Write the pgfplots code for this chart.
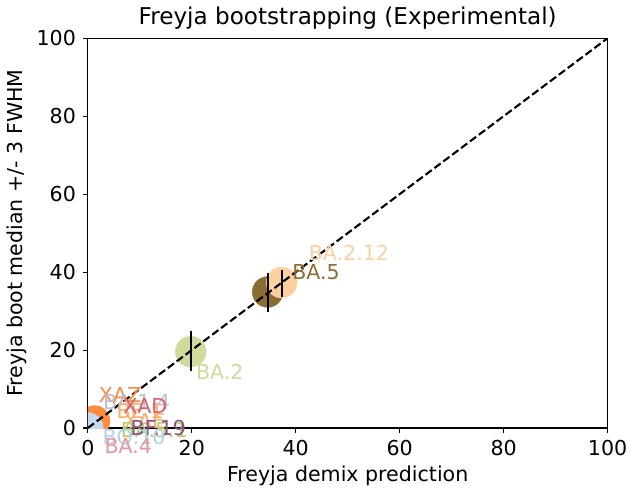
\documentclass[border=0pt]{standalone}
\usepackage{pgfplots}
\pgfplotsset{compat=1.18}
\usepackage{fontspec}
\setmainfont{DejaVu Sans}
\definecolor{cBAtwo}{HTML}{CEDB9C}
\definecolor{cBAfive}{HTML}{8C6D31}
\definecolor{cBAtwotwelve}{HTML}{FDD0A2}
\definecolor{cOrange}{HTML}{FD8D3C}
\definecolor{cLightBlue}{HTML}{C6DBEF}
\definecolor{cLav}{HTML}{BCBDDC}
\definecolor{cRed}{HTML}{D6616B}
\definecolor{cPeach}{HTML}{FDAE6B}
\definecolor{cGreen}{HTML}{B5CF6B}
\definecolor{cPurple}{HTML}{8A5282}
\definecolor{cBlue}{HTML}{B0D2EC}
\definecolor{cPink}{HTML}{E7969C}
\begin{document}
\fontsize{20.8}{25}\selectfont
\begin{tikzpicture}
\begin{axis}[
  scale only axis, width=524bp, height=393bp,
  xmin=0, xmax=100, ymin=0, ymax=100,
  xtick={0,20,40,60,80,100}, ytick={0,20,40,60,80,100},
  tick align=outside, tick pos=left,
  major tick length=4.9bp,
  every tick/.style={black, line width=1.1bp},
  axis line style={line width=1.1bp},
  tick label style={font=\fontsize{20.8}{25}\selectfont},
  /pgf/number format/assume math mode=true,
  label style={font=\fontsize{20.8}{25}\selectfont},
  title style={font=\fontsize{23.4}{28}\selectfont, yshift=-4bp},
  title={Freyja bootstrapping (Experimental)},
  xlabel={Freyja demix prediction},
  ylabel={Freyja boot median +/- 3 FWHM},
  xlabel style={yshift=4bp},
  ylabel style={yshift=-4bp},
  clip mode=individual,
  clip marker paths=true,
]
% markers
\addplot[only marks, mark=*, mark size=15.5bp, color=cOrange] coordinates {(1.3,1.8)};
\addplot[only marks, mark=*, mark size=15.5bp, color=cLightBlue] coordinates {(0.0,0.0)};
\addplot[only marks, mark=*, mark size=15.5bp, color=cBAtwo] coordinates {(19.8,19.6)};
\addplot[only marks, mark=*, mark size=15.5bp, color=cBAfive] coordinates {(34.6,34.9)};
\addplot[only marks, mark=*, mark size=15.5bp, color=cBAtwotwelve] coordinates {(37.3,37.3)};
% error bars
\addplot[black, line width=2bp] coordinates {(19.8,14.7) (19.8,25.0)};
\addplot[black, line width=2bp] coordinates {(34.6,29.8) (34.6,39.7)};
\addplot[black, line width=2bp] coordinates {(37.3,33.6) (37.3,40.5)};
% diagonal
\addplot[black, line width=2.1bp, dash pattern=on 7.8bp off 3.4bp] coordinates {(0,0) (100,100)};
% labels
\node[anchor=west, text=cBAtwotwelve, inner sep=0pt] at (axis cs:42.5,45) {BA.2.12};
\node[anchor=west, text=cBAfive, inner sep=0pt] at (axis cs:39.3,40.0) {BA.5};
\node[anchor=west, text=cBAtwo, inner sep=0pt] at (axis cs:20.8,14.5) {BA.2};
\node[anchor=west, text=cOrange, inner sep=0pt] at (axis cs:2.1,8.4) {XAZ};
\node[anchor=west, text=cLav, inner sep=0pt] at (axis cs:2.9,6.6) {BA.1.4};
\node[anchor=west, text=cPeach, inner sep=0pt] at (axis cs:5.5,4.3) {BE.1};
\node[anchor=west, text=cRed, inner sep=0pt] at (axis cs:6.8,5.6) {XAD};
\node[anchor=west, text=cPeach, inner sep=0pt] at (axis cs:6.9,1.8) {XAE};
\node[anchor=west, text=cGreen, inner sep=0pt] at (axis cs:6.3,-0.5) {BA.5.1};
\node[anchor=west, text=cPurple, inner sep=0pt] at (axis cs:8.2,0.1) {BF.19};
\node[anchor=west, text=cBlue, inner sep=0pt] at (axis cs:2.8,-2.7) {BQ.10};
\node[anchor=west, text=cPink, inner sep=0pt] at (axis cs:3.2,-4.6) {BA.4};
\end{axis}
\path[use as bounding box] ([xshift=-86bp,yshift=-62bp]current axis.south west) rectangle ([xshift=24bp,yshift=37bp]current axis.north east);
\end{tikzpicture}
\end{document}
